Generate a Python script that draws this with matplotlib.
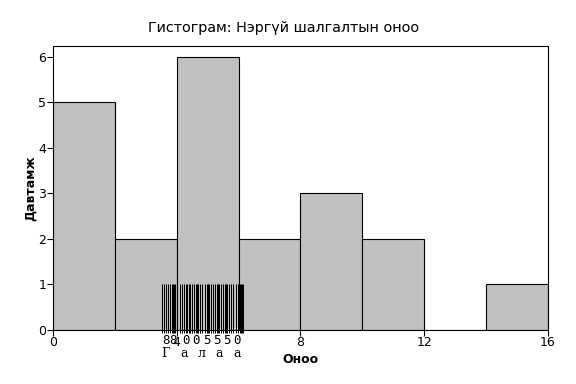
import numpy as np
import matplotlib
matplotlib.use("Agg")
import matplotlib.pyplot as plt

# histogram bins and counts
bin_edges = [0, 2, 4, 6, 8, 10, 12, 14, 16]
counts = [5, 2, 6, 2, 3, 2, 0, 1]

# the dense "barcode" strip of individual scores
rug_values = [3.52, 3.59, 3.65, 3.72, 3.78, 3.85, 3.88, 3.91, 3.94, 4.01,
              4.11, 4.17, 4.23, 4.30, 4.33, 4.40, 4.43, 4.49, 4.56, 4.62,
              4.65, 4.69, 4.75, 4.82, 4.91, 4.98, 5.01, 5.04, 5.11, 5.17,
              5.24, 5.30, 5.33, 5.37, 5.43, 5.49, 5.56, 5.59, 5.62, 5.69,
              5.75, 5.82, 5.92, 5.98, 6.04, 6.08, 6.11, 6.14]
rug_height = 1

digit_labels = ["8", "8", "0", "0", "5", "5", "5", "0"]
digit_x = [3.65, 3.88, 4.30, 4.62, 4.98, 5.30, 5.62, 5.95]
letter_labels = ["Г", "а", "л", "а", "а"]
letter_x = [3.65, 4.23, 4.82, 5.37, 5.95]

x_ticks = [0, 4, 8, 12, 16]
y_ticks = [0, 1, 2, 3, 4, 5, 6]

title = "Гистограм: Нэргүй шалгалтын оноо"
xlabel = "Оноо"
ylabel = "Давтамж"

fig = plt.figure(figsize=(5.76, 3.84), dpi=100)
ax = fig.add_axes([0.092, 0.141, 0.859, 0.739])

widths = np.diff(bin_edges)
ax.bar(bin_edges[:-1], counts, width=widths, align="edge",
       color="#c0c0c0", edgecolor="black", linewidth=0.8, zorder=2)

ax.vlines(rug_values, -0.07, rug_height, color="black", linewidth=0.72,
          clip_on=False, zorder=3)

for x, s in zip(digit_x, digit_labels):
    ax.text(x, -0.24, s, ha="center", va="center", fontsize=9,
            family="DejaVu Sans Mono", clip_on=False)
for x, s in zip(letter_x, letter_labels):
    ax.text(x, -0.52, s, ha="center", va="center", fontsize=9,
            family="DejaVu Serif", clip_on=False)

ax.set_xlim(0, 16)
ax.set_ylim(0, 6.24)
ax.set_xticks(x_ticks)
ax.set_yticks(y_ticks)
ax.tick_params(direction="out", length=4, width=0.8, labelsize=9, pad=1)
ax.tick_params(axis="x", pad=0.5)
for sp in ax.spines.values():
    sp.set_linewidth(0.8)

ax.set_xlabel(xlabel, fontsize=9, fontweight="bold", labelpad=3)
ax.set_ylabel(ylabel, fontsize=9, fontweight="bold", labelpad=1)
fig.suptitle(title, fontsize=10.4, x=0.492, y=0.945)

fig.savefig("out.png", dpi=100)
